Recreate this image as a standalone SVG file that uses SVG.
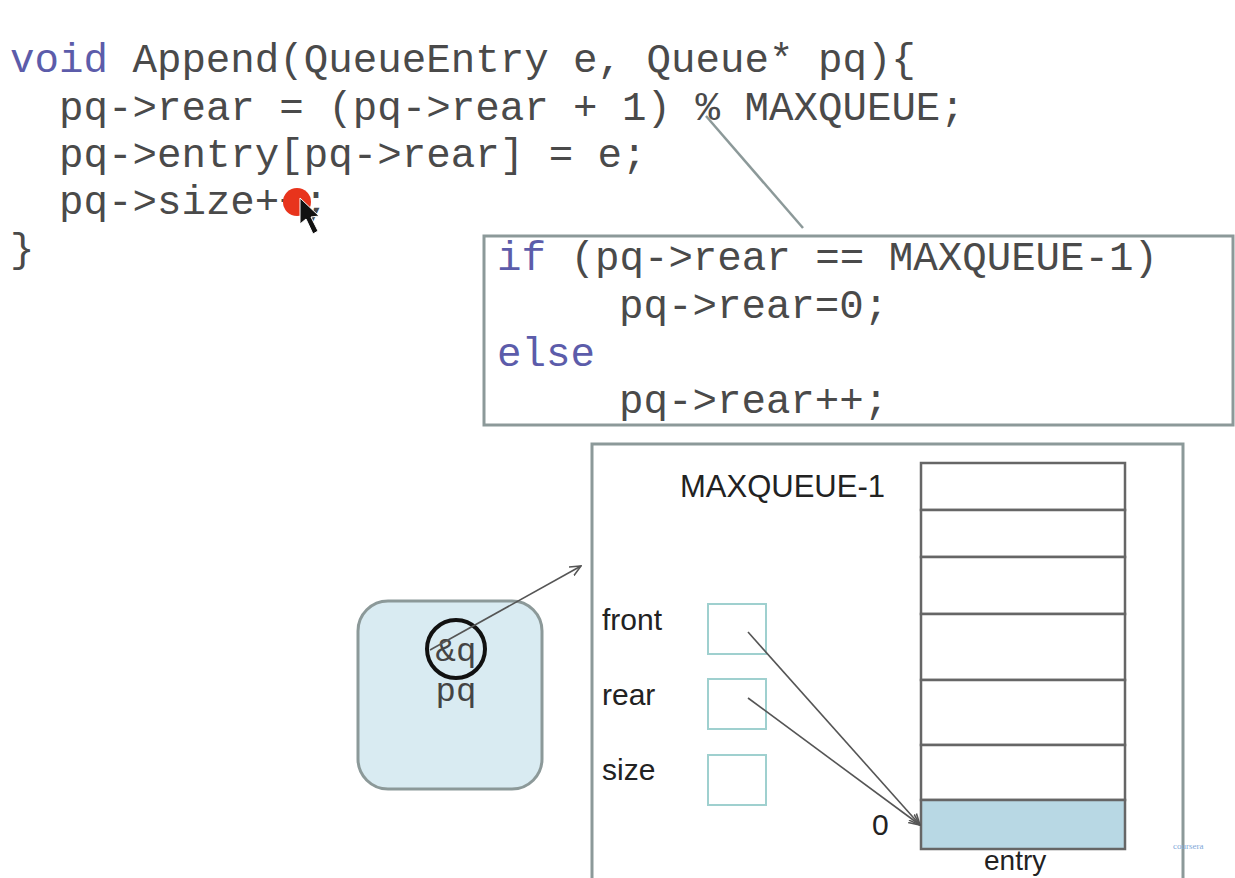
<svg xmlns="http://www.w3.org/2000/svg" width="1235" height="878" viewBox="0 0 1235 878">
<style>
.code{font-family:"Liberation Mono","Courier New",monospace;font-size:40.8px;fill:#4a4a4a}
.kw{fill:#5c5caa}
.lbl{font-family:"Liberation Sans",Arial,sans-serif;font-size:30px;fill:#222}
.frame{fill:none;stroke:#8c9999;stroke-width:3}
.field{fill:#fff;stroke:#9fd0cf;stroke-width:2}
.cell{fill:#fff;stroke:#666;stroke-width:2.5}
.ptr{fill:none;stroke:#555;stroke-width:1.6}
</style>
<defs>
<marker id="open" viewBox="0 0 12 12" refX="11" refY="6" markerWidth="12" markerHeight="12" markerUnits="userSpaceOnUse" orient="auto">
<path d="M0,1 L11,6 L0,11" fill="none" stroke="#555" stroke-width="1.6"/>
</marker>
</defs>
<rect width="1235" height="878" fill="#fff"/>

<g id="code-main">
<text class="code" x="10" y="72"><tspan class="kw">void</tspan> Append(QueueEntry e, Queue* pq){</text>
<text class="code" x="59" y="120">pq-&gt;rear = (pq-&gt;rear + 1) % MAXQUEUE;</text>
<text class="code" x="59" y="167">pq-&gt;entry[pq-&gt;rear] = e;</text>
<text class="code" x="59" y="214">pq-&gt;size++;</text>
<text class="code" x="10" y="262">}</text>
<circle cx="297" cy="202" r="14" fill="#e8341c"/>
<polygon points="300,198 300,224 306,219 313,234 318,231 311,217 319,216" fill="#111" stroke="#fff" stroke-width="1"/>
</g>

<g id="code-if">
<rect x="484" y="236" width="749" height="189" class="frame"/>
<text class="code" x="497" y="270"><tspan class="kw">if</tspan> (pq-&gt;rear == MAXQUEUE-1)</text>
<text class="code" x="619" y="318">pq-&gt;rear=0;</text>
<text class="code kw" x="497" y="366">else</text>
<text class="code" x="619" y="413">pq-&gt;rear++;</text>
</g>

<g id="queue">
<path d="M592,878 L592,444 L1183,444 L1183,878" class="frame"/>
<text class="lbl" x="680" y="497" style="font-size:31px">MAXQUEUE-1</text>
<text class="lbl" x="602" y="630">front</text>
<text class="lbl" x="602" y="705">rear</text>
<text class="lbl" x="602" y="780">size</text>
<rect x="708" y="604" width="58" height="50" class="field"/>
<rect x="708" y="679" width="58" height="50" class="field"/>
<rect x="708" y="755" width="58" height="50" class="field"/>
</g>

<g id="entry">
<rect x="921" y="463" width="204" height="47" class="cell"/>
<rect x="921" y="510" width="204" height="47" class="cell"/>
<rect x="921" y="557" width="204" height="57" class="cell"/>
<rect x="921" y="614" width="204" height="66" class="cell"/>
<rect x="921" y="680" width="204" height="65" class="cell"/>
<rect x="921" y="745" width="204" height="55" class="cell"/>
<rect x="921" y="800" width="204" height="49" class="cell" style="fill:#b8d8e4"/>
<text class="lbl" x="872" y="835">0</text>
<text class="lbl" x="984" y="870" style="font-size:28px">entry</text>
</g>

<g id="pq">
<rect x="358" y="601" width="184" height="188" rx="30" fill="#d9ebf2" stroke="#8c9999" stroke-width="3"/>
<circle cx="456" cy="649" r="29" fill="none" stroke="#111" stroke-width="4"/>
<text x="456" y="661" text-anchor="middle" style="font-family:'Liberation Mono',monospace;font-size:34px;fill:#444">&amp;q</text>
<text x="456" y="701" text-anchor="middle" style="font-family:'Liberation Mono',monospace;font-size:34px;fill:#444">pq</text>
</g>

<g id="connectors">
<line x1="706" y1="116" x2="803" y2="228" stroke="#8c9999" stroke-width="2.5"/>
<line x1="430" y1="650" x2="581" y2="566" class="ptr" marker-end="url(#open)"/>
<line x1="748" y1="632" x2="920" y2="825" class="ptr" marker-end="url(#open)"/>
<line x1="748" y1="698" x2="920" y2="825" class="ptr" marker-end="url(#open)"/>
</g>

<text x="1173" y="849" style="font-family:'Liberation Serif',serif;font-size:9px;fill:#7fa8d8">coursera</text>
</svg>
